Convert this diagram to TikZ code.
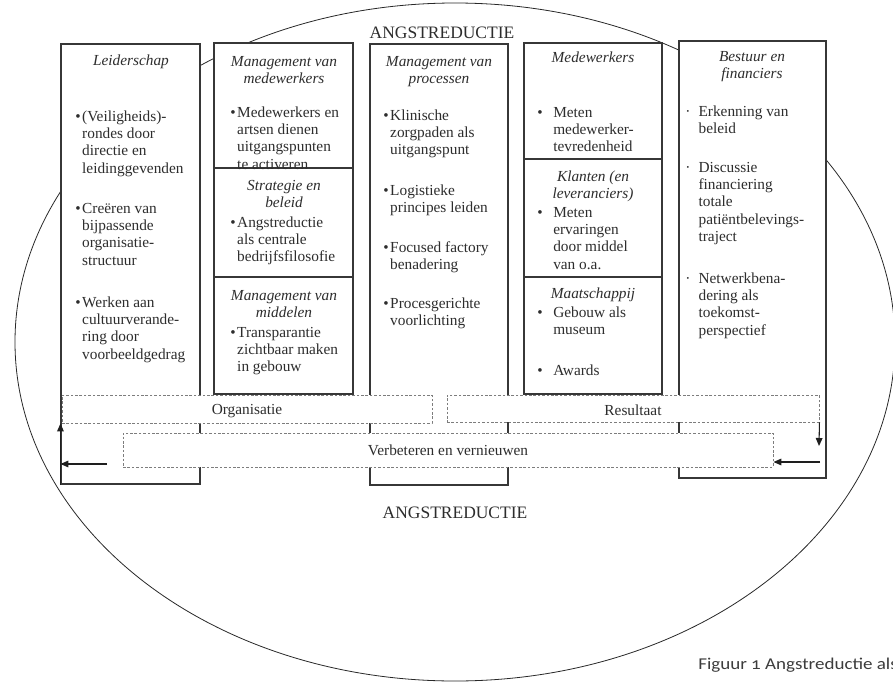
\documentclass[tikz,border=0pt]{standalone}
\usepackage{fontspec}
\setmainfont{Liberation Serif}
\newfontfamily\capfont[FakeStretch=1.15,Numbers=OldStyle]{Carlito}
\usetikzlibrary{arrows.meta,fit}

\newcommand{\bodyfont}{\fontsize{11.5}{13}\selectfont\setbox\strutbox\hbox{\vrule height 9.1pt depth 3.9pt width 0pt}}
\newcommand{\itm}[1]{\textbullet\hspace{1.2pt}\begin{tabular}[t]{@{}l@{}}#1\end{tabular}}
\newcommand{\itmw}[1]{\makebox[12pt][l]{\textbullet}\begin{tabular}[t]{@{}l@{}}#1\end{tabular}}
\newcommand{\itmd}[1]{\makebox[10pt][l]{\textperiodcentered}\begin{tabular}[t]{@{}l@{}}#1\end{tabular}}
\newcommand{\hd}[1]{\begin{tabular}[t]{@{}c@{}}#1\end{tabular}}

\begin{document}
\begin{tikzpicture}[x=0.75pt,y=0.75pt,yscale=-1,xscale=1,
  colbox/.style={draw={rgb, 255:red, 55; green, 55; blue, 55 },fill=white,line width=0.8pt,inner sep=0pt},
  band/.style={draw={rgb, 255:red, 125; green, 125; blue, 125 },fill=white,line width=0.7pt,dash pattern={on 2pt off 1.3pt},inner sep=0pt},
  txt/.style={anchor=base west,inner sep=0pt,text={rgb, 255:red, 45; green, 45; blue, 45 },font=\bodyfont},
  hdg/.style={anchor=base,inner sep=0pt,text={rgb, 255:red, 45; green, 45; blue, 45 },font=\bodyfont\itshape},
  lbl/.style={anchor=base,inner sep=0pt,text={rgb, 255:red, 45; green, 45; blue, 45 },font=\bodyfont},
  arr/.style={draw={rgb, 255:red, 30; green, 30; blue, 30 },line width=0.8pt,-{Triangle[length=6pt,width=5pt]}}]
\useasboundingbox (0,0) rectangle (893,682);

%Ellipse
\draw [color={rgb, 255:red, 40; green, 40; blue, 40 },line width=0.6pt] (455,342) ellipse [x radius=440, y radius=339];

% Text Node
\node [lbl,font=\fontsize{13.1}{15}\selectfont] (toptitle) at (442,38) {ANGSTREDUCTIE};
\node [lbl,font=\fontsize{13.1}{15}\selectfont] (bottitle) at (455,518) {ANGSTREDUCTIE};

%Columns
\node [colbox,fit={(61,44) (200,484)}] (lead) {};
\node [colbox,fit={(214,43) (353,168)}] (mw) {};
\node [colbox,fit={(214,168) (353,277)}] (strat) {};
\node [colbox,fit={(214,277) (353,394)}] (midd) {};
\node [colbox,fit={(370,44) (508,485)}] (proc) {};
\node [colbox,fit={(524,43) (662,159)}] (medw) {};
\node [colbox,fit={(524,159) (662,277)}] (klant) {};
\node [colbox,fit={(524,277) (662,394)}] (maat) {};
\node [colbox,fit={(679,41) (826,478)}] (best) {};

% Text Node
\node [hdg] (leadhd) at (131,65) {Leiderschap};
\node [txt] (lead1) at (75,121) {\itm{(Veiligheids)-\\rondes door\\directie en\\leidinggevenden}};
\node [txt] (lead2) at (75,213) {\itm{Creëren van\\bijpassende\\organisatie-\\structuur}};
\node [txt] (lead3) at (75,307) {\itm{Werken aan\\cultuurverande-\\ring door\\voorbeeldgedrag}};

% Text Node
\node [hdg] (mwhd) at (284,66) {\hd{Management van\\medewerkers}};
\node [txt] (mw1) at (230,117) {\itm{Medewerkers en\\artsen dienen\\uitgangspunten\\te activeren}};
\node [hdg] (strathd) at (284,190) {\hd{Strategie en\\beleid}};
\node [txt] (strat1) at (230,227) {\itm{Angstreductie\\als centrale\\bedrijfsfilosofie}};
\node [hdg] (middhd) at (284,300) {\hd{Management van\\middelen}};
\node [txt] (midd1) at (230,337) {\itm{Transparantie\\zichtbaar maken\\in gebouw}};

% Text Node
\node [hdg] (prochd) at (439,66) {\hd{Management van\\processen}};
\node [txt] (proc1) at (383,120) {\itm{Klinische\\zorgpaden als\\uitgangspunt}};
\node [txt] (proc2) at (383,195) {\itm{Logistieke\\principes leiden}};
\node [txt] (proc3) at (383,252) {\itm{Focused factory\\benadering}};
\node [txt] (proc4) at (383,308) {\itm{Procesgerichte\\voorlichting}};

% Text Node
\node [hdg] (medwhd) at (593,62) {Medewerkers};
\node [txt] (medw1) at (537,117) {\itmw{Meten\\medewerker-\\tevredenheid}};
\node [hdg] (klanthd) at (593,181) {\hd{Klanten (en\\leveranciers)}};
\node [txt] (klant1) at (537,217) {\itmw{Meten\\ervaringen\\door middel\\van o.a.}};
\node [hdg] (maathd) at (593,298) {Maatschappij};
\node [txt] (maat1) at (537,317) {\itmw{Gebouw als\\museum}};
\node [txt] (maat2) at (537,375) {\itmw{Awards}};

% Text Node
\node [hdg] (besthd) at (752,61) {\hd{Bestuur en\\financiers}};
\node [txt] (best1) at (685,116) {\itmd{Erkenning van\\beleid}};
\node [txt] (best2) at (685,172) {\itmd{Discussie\\financiering\\totale\\patiëntbelevings-\\traject}};
\node [txt] (best3) at (685,283) {\itmd{Netwerkbena-\\dering als\\toekomst-\\perspectief}};

%Bands
\node [band,fit={(62,395) (432,423)}] (org) {};
\node [band,fit={(447,395) (819,422)}] (res) {};
\node [band,fit={(123,433) (773,467)}] (verb) {};
\node [lbl] (orglbl) at (247,414) {Organisatie};
\node [lbl] (reslbl) at (633,415) {Resultaat};
\node [lbl] (verblbl) at (448,455) {Verbeteren en vernieuwen};

%Arrows
\coordinate (lfeed) at (107,464);
\coordinate (rdrop) at (819,446);
\coordinate (rfeed) at (820,462);
\draw [arr] (lead.south west) -- (lead.west |- org.south);
\draw [arr] (lfeed) -- (lfeed -| lead.west);
\draw [arr] (res.south east) -- (rdrop);
\draw [arr] (rfeed) -- (rfeed -| verb.east);

% Text Node
\node [anchor=base west,inner sep=0pt,text={rgb, 255:red, 60; green, 60; blue, 60 },font=\capfont\fontsize{12.4}{14}\selectfont] (caption) at (698,669) {Figuur 1 Angstreductie als};
\end{tikzpicture}
\end{document}
